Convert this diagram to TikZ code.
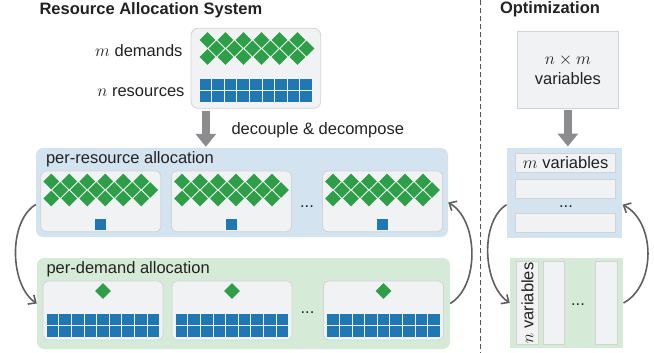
\documentclass[tikz,border=0pt]{standalone}
\usepackage{fontspec}
\setmainfont{Liberation Sans}
\usetikzlibrary{arrows.meta}

\definecolor{demgreen}{HTML}{2E9F48}
\definecolor{resblue}{HTML}{1F77B4}
\definecolor{panelblue}{HTML}{D3E3EF}
\definecolor{panelgreen}{HTML}{D5EBD8}
\definecolor{cellfill}{HTML}{F1F2F4}
\definecolor{cellline}{HTML}{D2D3D5}
\definecolor{arrowgray}{HTML}{8C8C8E}
\definecolor{loopgray}{HTML}{5F5F61}
\definecolor{dashgray}{HTML}{555555}
\definecolor{textgray}{HTML}{222222}

\newcommand{\dmd}[2]{\fill[demgreen] ({#1-7.9},{#2}) -- ({#1},{#2-7.9}) -- ({#1+7.9},{#2}) -- ({#1},{#2+7.9}) -- cycle;}
\newcommand{\demgrid}[2]{% #1 centre x, #2 middle row y
  \foreach \k in {0,...,5}{
    \dmd{#1-49.5+18*\k}{#2-8.5}
    \dmd{#1-40.5+18*\k}{#2}
    \dmd{#1-49.5+18*\k}{#2+8.5}
  }}
\newcommand{\resgrid}[2]{% #1 centre x, #2 top y
  \foreach \r in {0,1}{
    \foreach \c in {0,...,8}{
      \fill[resblue] ({#1-56.2+12.6*\c},{#2+12*\r}) rectangle ++(11.6,11.2);
    }}}

\begin{document}
\begin{tikzpicture}[x=1pt,y=-1pt,
    font=\fontsize{16.5}{19.8}\selectfont, text=textgray,
    cell/.style={draw=cellline, fill=cellfill, line width=0.8pt, rounded corners=5pt, inner sep=0pt},
    optcell/.style={draw=cellline, fill=cellfill, line width=0.8pt, inner sep=0pt},
    respane/.style={fill=panelblue, rounded corners=7pt, inner sep=0pt},
    dempane/.style={fill=panelgreen, rounded corners=7pt, inner sep=0pt},
    bigarrow/.style={draw=arrowgray, line width=8pt, -{Triangle[length=13pt,width=20pt]}, shorten <=2pt, shorten >=1pt},
    cycarrow/.style={draw=loopgray, line width=1.6pt, -{Straight Barb[length=6pt,width=11pt]}},
    title/.style={font=\fontsize{16.5}{19.8}\selectfont\bfseries}]

    \useasboundingbox (0,0) rectangle (654,353);

    % resource allocation system
    \node[title, anchor=base west] (systitle) at (36,15) {Resource Allocation System};
    \node[cell, rounded corners=7pt, minimum width=129.7pt, minimum height=80pt] (topbox) at (255.85,68.3) {};
    \demgrid{257}{48.5}
    \resgrid{255.8}{79}
    \node[anchor=base east] (demlbl) at (186,56.7) {$m$ demands};
    \node[anchor=base east] (reslbl) at (188,96.7) {$n$ resources};

    \node[respane, minimum width=412pt, minimum height=89pt] (respanel) at (242,192.5) {};
    \node[dempane, minimum width=413pt, minimum height=91pt] (dempanel) at (243.5,303.5) {};

    \coordinate (splitpt) at ([xshift=-50pt]topbox.south);
    \draw[bigarrow] (splitpt) -- (splitpt |- respanel.north);
    \node[anchor=base west] (declbl) at (228,135) {decouple \& decompose};

    \node[anchor=base west] (reslabel) at (42.5,163.3) {per-resource allocation};
    \node[anchor=base west] (demlabel) at (43,273.3) {per-demand allocation};

    \foreach \cx [count=\i] in {100.8,231.4,382.5}{
        \node[cell, minimum width=120pt, minimum height=60.7pt] (rbox\i) at (\cx,201.35) {};
        \demgrid{\cx}{190}
        \fill[resblue] ({\cx-5.5},218.5) rectangle ({\cx+5.5},229.5);
    }
    \foreach \cx [count=\i] in {103,232,383.5}{
        \node[cell, minimum width=120pt, minimum height=59pt] (dbox\i) at (\cx,310.5) {};
        \dmd{\cx}{291}
        \resgrid{\cx}{314}
    }
    \node[anchor=base] (resdots) at (307,207) {...};
    \node[anchor=base] (demdots) at (307.5,313) {...};

    \draw[cycarrow] ([yshift=-12pt]respanel.west) .. controls +(-28,17) and +(-27,-18) .. (dempanel.west);
    \draw[cycarrow] (dempanel.east) .. controls +(30,-18) and +(30,17) .. ([yshift=-10pt]respanel.east);

    \draw[dashgray, line width=0.8pt, dash pattern=on 5pt off 3pt] (480,0) -- (480,353);

    % optimization
    \node[title, anchor=base] (opttitle) at (550,14) {Optimization};
    \node[optcell, minimum width=100.3pt, minimum height=76.3pt, align=center] (nmbox) at (567.85,69.85) {$n\times m$\\variables};

    \node[fill=panelblue, inner sep=0pt, minimum width=115.6pt, minimum height=90pt] (optres) at (564.5,192.7) {};
    \node[optcell, minimum width=100pt, minimum height=19pt] (mslot) at (565.7,162.8) {$m$ variables};
    \node[optcell, minimum width=100pt, minimum height=19pt] (slot2) at (565.7,188.65) {};
    \node[anchor=base] (optresdots) at (566,207) {...};
    \node[optcell, minimum width=100pt, minimum height=19pt] (slot3) at (565.7,222.5) {};

    \node[fill=panelgreen, inner sep=0pt, minimum width=113.3pt, minimum height=90.6pt] (optdem) at (566.65,303) {};
    \node[optcell, minimum width=21.6pt, minimum height=82.6pt] (nslot) at (527.5,303) {};
    \node[rotate=90] (nvarlbl) at (nslot) {$n$ variables};
    \node[optcell, minimum width=21.6pt, minimum height=82.6pt] (col2) at (553.8,303) {};
    \node[anchor=base] (optdemdots) at (578,305) {...};
    \node[optcell, minimum width=21.6pt, minimum height=82.6pt] (col3) at (606.35,303) {};

    \draw[bigarrow] (nmbox.south) -- (nmbox.south |- optres.north);
    \draw[cycarrow] ([yshift=-12pt]optres.west) .. controls +(-27,17) and +(-27,-18) .. (optdem.west);
    \draw[cycarrow] (optdem.east) .. controls +(33,-18) and +(33,17) .. ([yshift=-12pt]optres.east);
\end{tikzpicture}
\end{document}
